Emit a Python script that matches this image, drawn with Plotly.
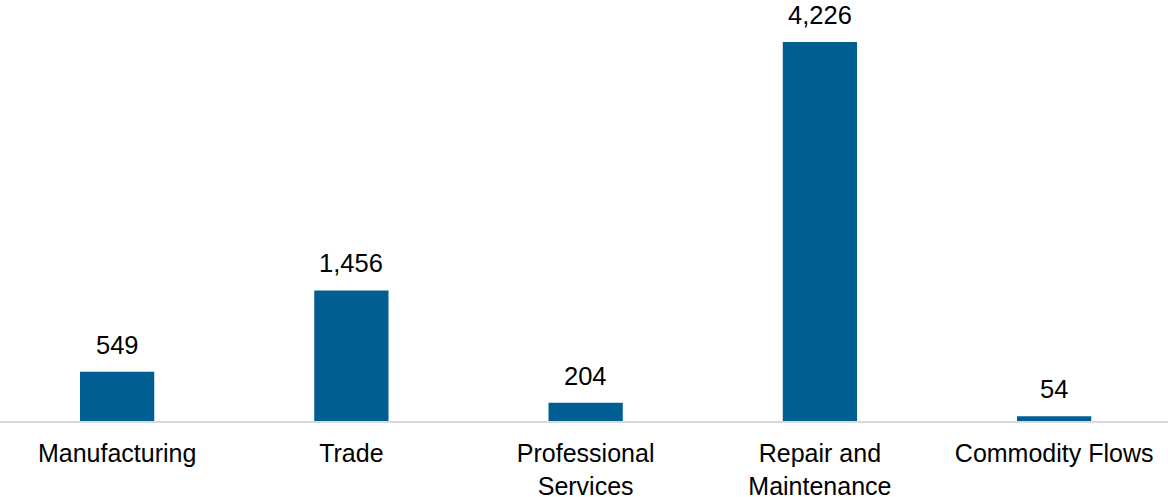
import plotly.graph_objects as go

# Values
categories = ["Manufacturing", "Trade", "Professional<br>Services",
              "Repair and<br>Maintenance", "Commodity Flows"]
values = [549, 1456, 204, 4226, 54]

FONT = "Liberation Sans, Arial, sans-serif"

fig = go.Figure()
fig.add_trace(go.Bar(
    x=categories, y=values,
    marker=dict(color="#005E92", line=dict(width=0)),
))

# value labels sit a little higher above the bars than plotly's "outside" text
for c, v in zip(categories, values):
    fig.add_annotation(x=c, y=v, text=f"{v:,}", showarrow=False,
                       yanchor="bottom", yshift=11,
                       font=dict(family=FONT, size=25.5, color="#000000"))

fig.update_layout(
    width=1168, height=497,
    margin=dict(l=0, r=0, t=0, b=76, autoexpand=False),
    plot_bgcolor="white", paper_bgcolor="white",
    font=dict(family=FONT, size=25.5, color="#000000"),
    bargap=0.683,
    showlegend=False,
)
# last category runs a touch past the right edge in the original
fig.update_xaxes(range=[-0.5, 4.486], showline=True, linecolor="#d9d9d9", linewidth=2,
                 automargin=False, ticks="outside", ticklen=9, tickcolor="rgba(0,0,0,0)",
                 tickfont=dict(size=25, color="#000000"))
fig.update_yaxes(visible=False, range=[0, 4694], showgrid=False, zeroline=False,
                 automargin=False)

# drop the browser's default 8px body margin so the chart sits at the page corner
fig.write_html("out.html", config={"displayModeBar": False},
               post_script="document.body.style.margin='0';")
